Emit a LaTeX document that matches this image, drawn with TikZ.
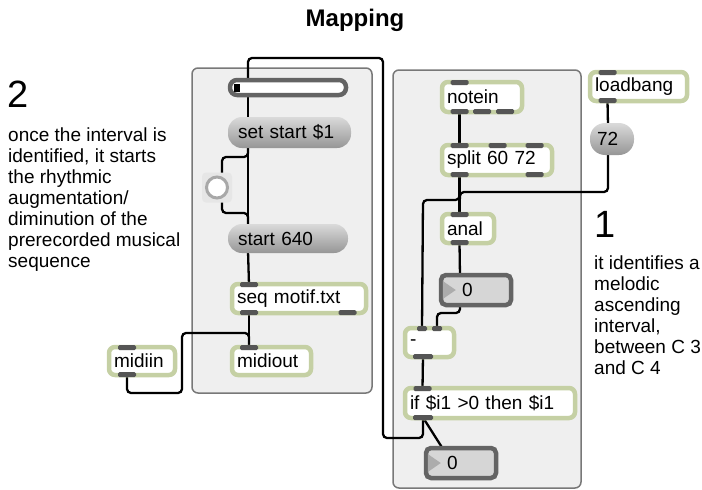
\documentclass[tikz,border=0pt]{standalone}
\usepackage{fontspec}
\setmainfont{Liberation Sans}
\usetikzlibrary{calc}

\definecolor{objgreen}{RGB}{197,208,164}
\definecolor{portgray}{RGB}{85,85,85}
\definecolor{panelfill}{RGB}{239,239,239}
\definecolor{panelline}{RGB}{120,120,120}
\definecolor{numfill}{RGB}{214,214,214}
\definecolor{numline}{RGB}{100,100,100}
\definecolor{tri}{RGB}{172,172,172}
\definecolor{msgtop}{RGB}{218,218,218}
\definecolor{msgbot}{RGB}{150,150,150}
\definecolor{btnfill}{RGB}{230,230,230}
\definecolor{ringline}{RGB}{168,168,168}

\newcommand\boxfont{\fontsize{19}{21}\selectfont}
\newcommand\notefont{\fontsize{19}{21}\selectfont}

\pgfdeclarelayer{background}
\pgfdeclarelayer{cables}
\pgfsetlayers{background,cables,main}

\begin{document}
\begin{tikzpicture}
	[x=1pt,y=-1pt,
	obj/.style={draw=objgreen, line width=4.5pt, fill=white, rounded corners=6pt, inner xsep=5pt, inner ysep=0pt, minimum height=29pt, align=left, font=\boxfont},
	msg/.style={top color=msgtop, bottom color=msgbot, rounded corners=14pt, inner xsep=10pt, inner ysep=0pt, align=left, font=\boxfont},
	numbox/.style={draw=numline, fill=numfill, line width=4.5pt, rounded corners=5pt, inner xsep=4pt, inner ysep=0pt, minimum width=70pt, minimum height=30pt, text width=62pt, align=left, font=\boxfont},
	port/.style={fill=portgray, rounded corners=1.5pt, inner sep=0pt, minimum width=18pt, minimum height=5pt},
	cable/.style={line width=2.3pt, rounded corners=4pt},
	panel/.style={fill=panelfill, draw=panelline, line width=1.5pt, rounded corners=6pt},
	note/.style={font=\notefont, align=left, inner sep=0pt, anchor=north west},
	bignum/.style={font=\fontsize{38}{38}\selectfont, inner sep=0pt, anchor=base west}]

	\useasboundingbox (0,0) rectangle (702,490);

	% texts
	\node[font=\fontsize{24}{24}\selectfont\bfseries] (title) at (355,20) {Mapping};
	\node[bignum] (two) at (7,107) {2};
	\node[note] (note2) at (8,128) {once the interval is\\identified, it starts\\the rhythmic\\augmentation/\\diminution of the\\prerecorded musical\\sequence};
	\node[bignum] (one) at (594,237) {1};
	\node[note] (note1) at (594,256) {it identifies a\\melodic\\ascending\\interval,\\between C 3\\and C 4};

	% left patch
	\node[draw=numline, line width=4.5pt, fill=white, rounded corners=7pt, minimum width=116pt, minimum height=15pt, inner sep=0pt] (slider) at (288,87.5) {};
	\fill (234,84) rectangle (240,92);
	\node[msg, minimum width=123pt, minimum height=31pt, text width=103pt] (setstart) at (289.5,132.5) {set start \$1};
	\node[fill=btnfill, rounded corners=4pt, minimum size=30pt, inner sep=0pt] (button) at (217,187.5) {};
	\node[circle, draw=ringline, line width=3pt, fill=white, minimum size=21pt, inner sep=0pt] (ring) at (button) {};
	\node[msg, minimum width=120pt, minimum height=29pt, text width=100pt] (start) at (288,238.5) {start 640};
	\node[obj, minimum width=134pt, text width=124pt] (seq) at (299,298.5) {seq motif.txt};
	\node[obj, minimum width=79pt, minimum height=28pt, text width=69pt] (midiout) at (271.5,361) {midiout};
	\node[obj, minimum width=66pt, minimum height=28pt, text width=56pt] (midiin) at (142,361) {midiin};

	% right patch
	\node[obj, minimum width=80pt, minimum height=30pt, text width=70pt] (notein) at (482,97) {notein};
	\node[obj, minimum width=110pt, minimum height=30pt, text width=100pt] (split) at (497,160) {split 60 72};
	\node[obj, minimum width=52pt, text width=42pt] (anal) at (468,228.5) {anal};
	\node[numbox] (num0a) at (476,290) {\hspace*{17pt}0};
	\node[obj, minimum width=49pt, text width=39pt] (minus) at (429.5,342.5) {-};
	\node[obj, minimum width=170pt, minimum height=30pt, text width=160pt] (ifbox) at (490,403) {if \$i1 >0 then \$i1};
	\node[numbox] (num0b) at (461,463) {\hspace*{17pt}0};
	\node[obj, minimum width=97pt, text width=87pt] (loadbang) at (638.5,86.5) {loadbang};
	\node[msg, minimum width=44pt, minimum height=32pt, inner xsep=7pt, text width=30pt, rounded corners=15pt] (msg72) at (612,139) {72};

	\fill[tri] ($(num0a.west)+(4,-9)$) -- ++(13,9) -- ++(-13,9) -- cycle;
	\fill[tri] ($(num0b.west)+(4,-9)$) -- ++(13,9) -- ++(-13,9) -- cycle;

	% inlets and outlets
	\node[port] (seq-i1) at (249,284.5) {};
	\node[port] (seq-o1) at (249,312.5) {};
	\node[port] (seq-o2) at (347.5,312.5) {};
	\node[port] (midiout-i1) at (249,347.5) {};
	\node[port] (midiin-i1) at (127,347.5) {};
	\node[port] (midiin-o1) at (127,374.5) {};
	\node[port] (notein-i1) at (459.5,82.5) {};
	\node[port] (notein-o1) at (459.5,111.5) {};
	\node[port] (notein-o2) at (482,111.5) {};
	\node[port] (notein-o3) at (505,111.5) {};
	\node[port] (split-i1) at (459.5,145.5) {};
	\node[port] (split-i2) at (497.5,145.5) {};
	\node[port] (split-i3) at (534.5,145.5) {};
	\node[port] (split-o1) at (459.5,174.5) {};
	\node[port] (split-o2) at (534.5,174.5) {};
	\node[port] (anal-i1) at (459.5,214.5) {};
	\node[port] (anal-o1) at (459.5,242.5) {};
	\node[port, minimum width=10pt] (minus-i1) at (422,328.5) {};
	\node[port, minimum width=10pt] (minus-i2) at (437,328.5) {};
	\node[port, minimum width=20pt] (minus-o1) at (423,356.5) {};
	\node[port] (ifbox-i1) at (422.5,388.5) {};
	\node[port, minimum width=20pt] (ifbox-o1) at (423,417.5) {};
	\node[port] (loadbang-i1) at (607.5,72.5) {};
	\node[port] (loadbang-o1) at (607.5,100.5) {};

	\coordinate (slider-i) at (248,80);
	\coordinate (slider-o) at (248,95);
	\coordinate (setstart-i) at (248,120);
	\coordinate (setstart-o) at (248,146);
	\coordinate (button-i) at (222,174);
	\coordinate (button-o) at (222,201);
	\coordinate (start-i) at (248,226);
	\coordinate (start-o) at (248,251);
	\coordinate (num0a-i) at (460,276);
	\coordinate (num0a-o) at (460,304);
	\coordinate (num0b-i) at (443,449);
	\coordinate (msg72-i) at (608,125);
	\coordinate (msg72-o) at (608,153);

	\begin{pgfonlayer}{cables}
		\draw[cable] (ifbox-o1) -- ++(0,20.5) -| (383,58) -| (slider-i);
		\draw[cable] (ifbox-o1) -- (num0b-i);
		\draw[cable] (slider-o) -- (setstart-i);
		\draw[cable] (setstart-o) -- (start-i);
		\draw[cable] (setstart-o) -- ++(0,11) -| (button-i);
		\draw[cable] (button-o) -- ++(0,12) -| (start-i);
		\draw[cable] (start-o) -- (seq-i1);
		\draw[cable] (seq-o1) -- (midiout-i1);
		\draw[cable] (midiin-o1) -- ++(0,18.5) -| (182,333) -| (midiout-i1);
		\draw[cable] (notein-o1) -- (split-i1);
		\draw[cable] (split-o1) -- (anal-i1);
		\draw[cable] (loadbang-o1) -- (msg72-i);
		\draw[cable] (msg72-o) |- (460,192) -- (anal-i1);
		\draw[cable] (split-o1) |- (423,200) -- (minus-i1);
		\draw[cable] (anal-o1) -- (num0a-i);
		\draw[cable] (num0a-o) -- ++(0,9) -| (minus-i2);
		\draw[cable] (minus-o1) -- (ifbox-i1);
	\end{pgfonlayer}

	\begin{pgfonlayer}{background}
		\draw[panel] (192,68) rectangle (372,393);
		\draw[panel] (393,70) rectangle (581,488);
	\end{pgfonlayer}
\end{tikzpicture}
\end{document}
